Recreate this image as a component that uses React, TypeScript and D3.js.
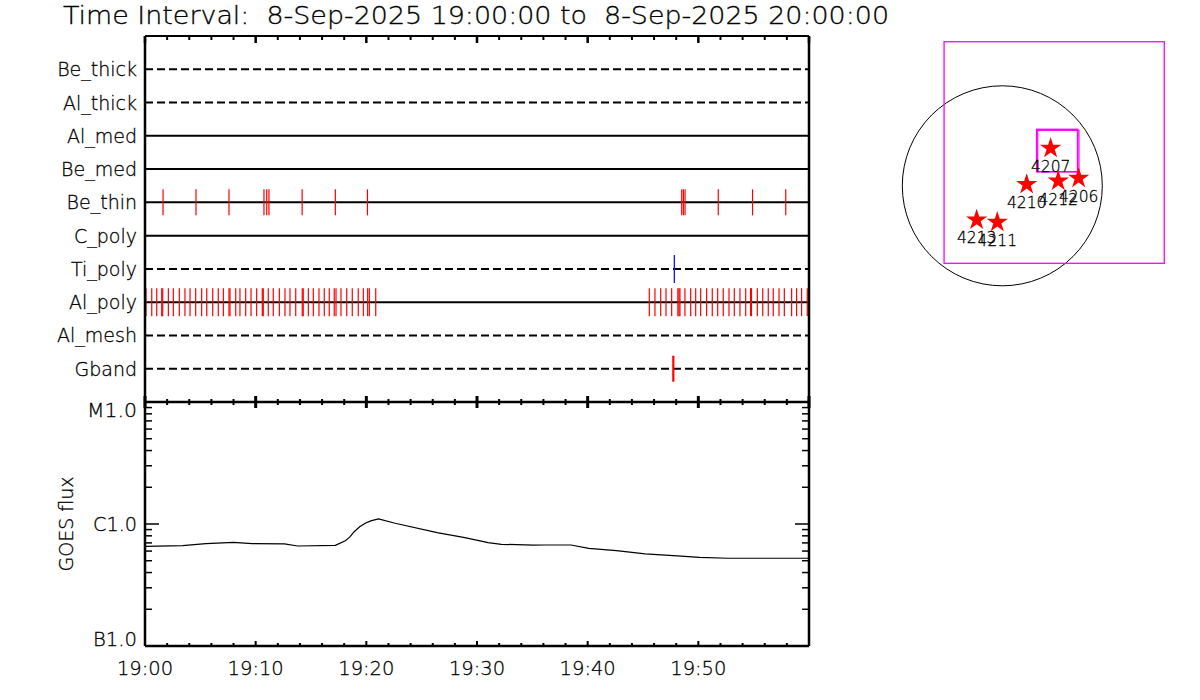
import React from 'react';
import * as d3 from 'd3';

// ---------- data ----------
const titleText = 'Time Interval:  8-Sep-2025 19:00:00 to  8-Sep-2025 20:00:00';
const rowNames = ['Be_thick', 'Al_thick', 'Al_med', 'Be_med', 'Be_thin', 'C_poly', 'Ti_poly', 'Al_poly', 'Al_mesh', 'Gband'];
const rowDashed = [true, true, false, false, false, false, true, false, true, true];

// event times, minutes after 19:00 UT
const beThinEvents = [1.63, 4.61, 7.59, 10.75, 11.0, 11.2, 14.2, 17.2, 20.1, 48.5, 48.65, 48.8, 51.8, 54.9, 57.9];
const alPolyEvents = [
  0.09, 0.61, 1.06, 1.51, 1.6, 2.11, 2.56, 3.1, 3.61, 4.07, 4.58, 5.12, 5.58, 6.12, 6.62, 7.08, 7.59, 7.68,
  8.2, 8.58, 9.1, 9.58, 10.09, 10.6, 10.69, 11.14, 11.59, 12.14, 12.65, 13.1, 13.62, 14.21, 14.3, 14.76,
  15.21, 15.72, 16.2, 16.65, 17.1, 17.26, 17.71, 18.23, 18.73, 19.27, 19.73, 20.12, 20.27, 20.85,
  45.57, 46.08, 46.6, 47.08, 47.59, 48.15, 48.25, 48.34, 48.79, 49.31, 49.76, 50.21, 50.75, 51.26, 51.75,
  52.25, 52.77, 53.25, 53.76, 54.28, 54.72, 54.8, 55.33, 55.82, 56.32, 56.77, 57.29, 57.77, 58.43, 58.88,
  59.33, 59.84,
];
const tiPolyEvents = [47.83];
const gbandEvents = [47.74];

const goesMinutes = [0, 3.4, 5.5, 8.0, 9.7, 12.6, 13.8, 17.2, 18.1, 18.5, 18.9, 19.4, 19.9, 20.4, 21.1, 22.6, 26.4, 28.9, 31.0, 32.2, 35.1, 36.0, 38.5, 40.1, 42.6, 45.2, 48.1, 50.1, 52.7, 60];
const goesFlux = [6.56e-7, 6.64e-7, 6.9e-7, 7.08e-7, 6.9e-7, 6.86e-7, 6.6e-7, 6.68e-7, 7.29e-7, 7.8e-7, 8.65e-7, 9.5e-7, 1.014e-6, 1.06e-6, 1.1e-6, 1.014e-6, 8.49e-7, 7.72e-7, 7.03e-7, 6.82e-7, 6.7e-7, 6.73e-7, 6.73e-7, 6.32e-7, 6.04e-7, 5.68e-7, 5.47e-7, 5.33e-7, 5.24e-7, 5.24e-7];
const goesTickValues = [1e-7, 1e-6, 1e-5];
const goesTickLabels = ['B1.0', 'C1.0', 'M1.0'];

// map (arcsec from disk centre)
const sunRadius = 960;
const arNames = ['4207', '4210', '4212', '4206', '4213', '4211'];
const arX = [464, 234, 537, 733, -246, -48];
const arY = [360, 14, 46, 72, -328, -350];
const fovBox = [-559, 1555, -744, 1383];
const zoomBoxA = [330, 723, 135, 542];
const zoomBoxB = [340, 736, 135, 532];

// ---------- layout ----------
const T0 = Date.UTC(2025, 8, 8, 19, 0, 0);
const toDate = (m: number) => new Date(T0 + m * 60000);
const FONT = '"DejaVu Sans", sans-serif';
const X0 = 145, X1 = 809;
const TOP = 36, MID = 402, BOT = 646;

export default function App() {
  const x = d3.scaleTime().domain([toDate(0), toDate(60)]).range([X0, X1]);
  const row = d3.scalePoint<string>().domain(rowNames).range([TOP, MID]).padding(1);
  const y = d3.scaleLog().domain([1e-7, 1e-5]).range([BOT, MID]);

  const minorTicks = x.ticks(d3.utcMinute.every(2) as any);
  const isMajor = (d: Date) => d.getUTCMinutes() % 10 === 0;
  const fmt = d3.utcFormat('%H:%M');
  const labelTicks = x.ticks(d3.utcMinute.every(10) as any).filter((d) => +d < +toDate(60));

  const yTicks = y.ticks();
  const line = d3
    .line<number>()
    .x((_, i) => x(toDate(goesMinutes[i])))
    .y((d) => y(d));

  const events = [
    { row: 'Be_thin', times: beThinEvents, color: '#ff0000', w: 1.2, h: 13 },
    { row: 'Al_poly', times: alPolyEvents, color: '#ff0000', w: 1.2, h: 14 },
    { row: 'Ti_poly', times: tiPolyEvents, color: '#0000ff', w: 1.2, h: 14 },
    { row: 'Gband', times: gbandEvents, color: '#ff0000', w: 2.2, h: 13 },
  ];

  // map scales
  const mx = d3.scaleLinear().domain([-sunRadius, sunRadius]).range([902.3, 1102.3]);
  const my = d3.scaleLinear().domain([-sunRadius, sunRadius]).range([285.8, 85.8]);
  const star = d3.symbol().type(d3.symbolStar).size(140)() as string;
  const boxRect = (b: number[], key: string, sw: number) => (
    <rect
      key={key}
      x={mx(b[0])}
      y={my(b[3])}
      width={mx(b[1]) - mx(b[0])}
      height={my(b[2]) - my(b[3])}
      fill="none"
      stroke="#ff00ff"
      strokeWidth={sw}
    />
  );

  const capH = 14;
  const txt = { fill: '#000', stroke: '#000', strokeWidth: 0.3 } as const;

  return (
    <svg
      width={1200}
      height={700}
      style={{ position: 'absolute', left: 0, top: 0, background: '#fff' }}
      fontFamily={FONT}
      fontWeight={200}
    >
      <rect x={0} y={0} width={1200} height={700} fill="#fff" />
      <text
        x={63}
        y={24}
        fontSize={24}
        textLength={826}
        lengthAdjust="spacingAndGlyphs"
        {...txt}
        style={{ whiteSpace: 'pre' }}
      >
        {titleText}
      </text>

      {/* -------- top panel -------- */}
      {rowNames.map((r, i) => (
        <g key={r}>
          <line
            x1={X0}
            x2={X1}
            y1={row(r)}
            y2={row(r)}
            stroke="#000"
            strokeWidth={2}
            strokeDasharray={rowDashed[i] ? '8,4' : undefined}
          />
          <text x={137} y={(row(r) as number) + 7} fontSize={19} textAnchor="end" {...txt}>
            {r}
          </text>
        </g>
      ))}
      {events.map((ev) =>
        ev.times.map((t, j) => (
          <line
            key={ev.row + j}
            x1={x(toDate(t))}
            x2={x(toDate(t))}
            y1={(row(ev.row) as number) - ev.h}
            y2={(row(ev.row) as number) + ev.h}
            stroke={ev.color}
            strokeWidth={ev.w}
          />
        ))
      )}
      {/* frames */}
      <line x1={X0} x2={X1} y1={TOP} y2={TOP} stroke="#000" strokeWidth={2} />
      <line x1={X0} x2={X0} y1={TOP} y2={BOT} stroke="#000" strokeWidth={2.5} />
      <line x1={X1} x2={X1} y1={TOP} y2={BOT} stroke="#000" strokeWidth={2.5} />
      <line x1={X0} x2={X1} y1={MID} y2={MID} stroke="#000" strokeWidth={2.5} />
      <line x1={X0} x2={X1} y1={BOT} y2={BOT} stroke="#000" strokeWidth={2.5} />
      {minorTicks.map((d, i) => {
        const xx = x(d);
        const maj = isMajor(d);
        return (
          <g key={'t' + i} stroke="#000">
            <line x1={xx} x2={xx} y1={TOP} y2={TOP + (maj ? 7 : 4)} strokeWidth={maj ? 2.5 : 2} />
            <line x1={xx} x2={xx} y1={MID - (maj ? 6 : 3)} y2={MID + (maj ? 6 : 3)} strokeWidth={maj ? 3 : 2} />
            <line x1={xx} x2={xx} y1={BOT} y2={BOT - (maj ? 5 : 3)} strokeWidth={2} />
          </g>
        );
      })}

      {/* -------- GOES panel -------- */}
      {yTicks.map((v, i) => {
        const yy = y(v);
        const maj = goesTickValues.some((g) => Math.abs(g - v) / g < 1e-6);
        const len = maj ? 14 : 7;
        return (
          <g key={'y' + i} stroke="#000" strokeWidth={1.5}>
            <line x1={X0} x2={X0 + len} y1={yy} y2={yy} />
            <line x1={X1} x2={X1 - len} y1={yy} y2={yy} />
          </g>
        );
      })}
      {goesTickValues.map((v, i) => {
        const yy = y(v);
        const base = Math.min(Math.max(yy + capH / 2, MID + capH + 1), BOT);
        return (
          <text
            key={'yl' + i}
            x={137}
            y={base}
            fontSize={19}
            textAnchor="end"
            {...txt}
            textLength={i === 2 ? 50 : 44}
            lengthAdjust="spacingAndGlyphs"
          >
            {goesTickLabels[i]}
          </text>
        );
      })}
      <text transform={`translate(73,524) rotate(-90)`} fontSize={19} textAnchor="middle" {...txt}>
        GOES flux
      </text>
      <path d={line(goesFlux) as string} fill="none" stroke="#000" strokeWidth={1.2} />
      {labelTicks.map((d, i) => (
        <text key={'xl' + i} x={x(d)} y={675} fontSize={19.5} textAnchor="middle" {...txt}>
          {fmt(d)}
        </text>
      ))}

      {/* -------- map -------- */}
      <circle cx={mx(0)} cy={my(0)} r={mx(sunRadius) - mx(0)} fill="none" stroke="#000" strokeWidth={1} />
      {boxRect(fovBox, 'fov', 1.3)}
      {boxRect(zoomBoxA, 'za', 1.5)}
      {boxRect(zoomBoxB, 'zb', 1.2)}
      {arNames.map((n, i) => (
        <g key={n}>
          <path d={star} transform={`translate(${mx(arX[i])},${my(arY[i])})`} fill="#ff0000" />
          <text x={mx(arX[i])} y={my(arY[i]) + 23.5} fontSize={15.5} textAnchor="middle" {...txt}>
            {n}
          </text>
        </g>
      ))}
    </svg>
  );
}
